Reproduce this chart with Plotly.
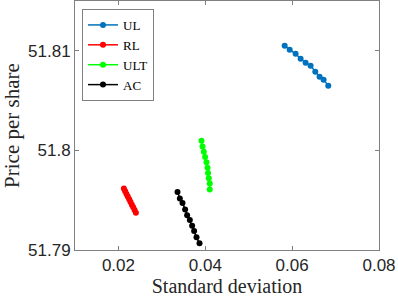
import plotly.graph_objects as go

series_names = ["UL", "RL", "ULT", "AC"]
series_colors = ["#0072BD", "#FF0000", "#00FF00", "#000000"]

ul_x = [0.05828, 0.05943, 0.06080, 0.06195, 0.06310, 0.06425, 0.06533, 0.06632, 0.06724, 0.06832]
ul_y = [51.8105, 51.8101, 51.8097, 51.8092, 51.8088, 51.8085, 51.8079, 51.8074, 51.8071, 51.8065]

rl_x = [0.02126, 0.02155, 0.02185, 0.02215, 0.02248, 0.02278, 0.02310, 0.02340, 0.02372, 0.02402]
rl_y = [51.79617, 51.79590, 51.79563, 51.79536, 51.79509, 51.79482, 51.79455, 51.79428, 51.79401, 51.79373]

ult_x = [0.03913, 0.03936, 0.03966, 0.03995, 0.04028, 0.04051, 0.04064, 0.04080, 0.04103, 0.04103]
ult_y = [51.80097, 51.80040, 51.79987, 51.79933, 51.79880, 51.79827, 51.79773, 51.79720, 51.79667, 51.79607]

ac_x = [0.03361, 0.03414, 0.03476, 0.03536, 0.03582, 0.03644, 0.03697, 0.03743, 0.03798, 0.03867]
ac_y = [51.79583, 51.79517, 51.79473, 51.79407, 51.79350, 51.79300, 51.79243, 51.79190, 51.79127, 51.79067]

x_ticks = [0.02, 0.04, 0.06, 0.08]
x_tick_labels = ["0.02", "0.04", "0.06", "0.08"]
y_ticks = [51.79, 51.80, 51.81]
y_tick_labels = ["51.79", "51.8", "51.81"]

xs = [ul_x, rl_x, ult_x, ac_x]
ys = [ul_y, rl_y, ult_y, ac_y]

fig = go.Figure()
for name, color, x, y in zip(series_names, series_colors, xs, ys):
    fig.add_trace(go.Scatter(
        x=x, y=y, name=name, mode="lines+markers",
        line=dict(color=color, width=1.5),
        marker=dict(color=color, size=6),
    ))

axis_common = dict(
    showgrid=False, zeroline=False, showline=True, linecolor="#808080",
    linewidth=1, mirror="ticks", ticks="inside", ticklen=4, tickcolor="#808080",
    tickfont=dict(family="Liberation Sans, Arial, sans-serif", size=17, color="#262626"),
)

serif = "Liberation Serif, DejaVu Serif, serif"

fig.update_layout(
    width=398, height=297,
    margin=dict(l=75, r=19, t=1, b=47),
    paper_bgcolor="white", plot_bgcolor="white",
    xaxis=dict(range=[0.01, 0.08], tickvals=x_ticks, ticktext=x_tick_labels,
               title=dict(text="Standard deviation", standoff=7,
                          font=dict(family=serif, size=20, color="#262626")),
               **axis_common),
    yaxis=dict(range=[51.79, 51.815], tickvals=y_ticks, ticktext=y_tick_labels,
               title=dict(text="Price per share", standoff=4,
                          font=dict(family=serif, size=21, color="#262626")),
               **axis_common),
    legend=dict(x=0.023, y=0.968, xanchor="left", yanchor="top",
                bordercolor="#808080", borderwidth=1, bgcolor="white",
                font=dict(family=serif, size=13, color="#000000"),
                itemwidth=30, tracegroupgap=0),
    showlegend=True,
)

fig.write_html("out.html", config={"displayModeBar": False},
               post_script="document.body.style.margin='0px';document.body.style.overflow='hidden';")
